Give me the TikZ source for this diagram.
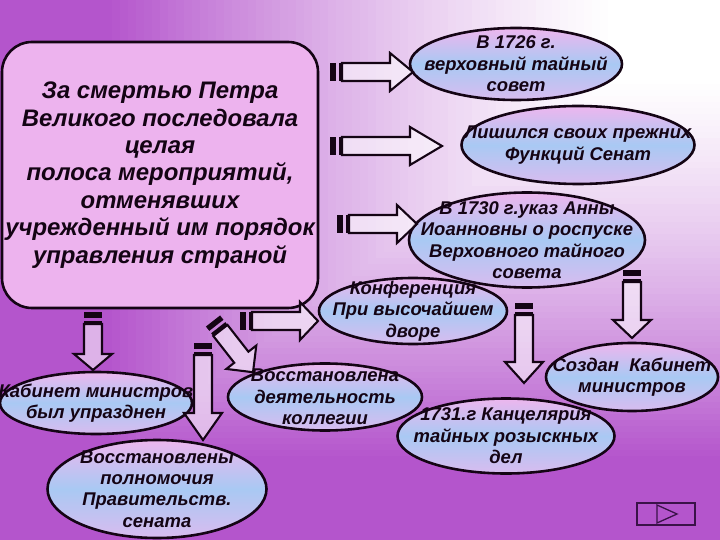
\documentclass[tikz,border=0pt]{standalone}
\usepackage{fontspec}
\setmainfont{Liberation Sans}
\usepackage{tikz}
\usetikzlibrary{shapes.geometric}
\definecolor{ink}     {HTML}{140414}
\definecolor{bgpurple}{HTML}{B455CC}
\definecolor{boxpink} {HTML}{EDB3EE}
\definecolor{ellpink} {HTML}{EDB6EE}
\definecolor{ellblue} {HTML}{A9C9F3}
\definecolor{btnline} {HTML}{3A1248}
\newcommand{\mainfont}{\fontsize{24}{27.5}\selectfont\bfseries\itshape}
\newcommand{\ellfont}{\fontsize{18.5}{21.5}\selectfont\bfseries\itshape}
\newcommand{\stripearrow}[4]{%
  \begin{scope}[shift={(#1)}, rotate=#2]
    \fill[stripe] (0,-9) rectangle (5.5,9);
    \fill[stripe] (8.5,-9) rectangle (12,9);
    \draw[blockarr] (12,-9) -- ({#3-#4},-9) -- ({#3-#4},-19) -- (#3,0)
      -- ({#3-#4},19) -- ({#3-#4},9) -- (12,9) -- cycle;
  \end{scope}}
\tikzset{
  mainbox/.style ={draw=ink, fill=boxpink, line width=2.6pt, rounded corners=30bp,
                   minimum width=316bp, minimum height=266bp,
                   align=center, font=\mainfont, text=ink, inner sep=0pt},
  ellnode/.style ={ellipse, draw=ink, line width=2.6pt,
                   top color=ellpink, bottom color=ellpink!70!ellblue, middle color=ellblue,
                   inner xsep=-150bp, inner ysep=-80bp,
                   align=center, font=\ellfont, text=ink},
  blockarr/.style={draw=ink, line width=2.1pt, fill=white, fill opacity=0.55, line join=miter},
  stripe/.style  ={fill=ink},
  navbtn/.style  ={draw=btnline, line width=1.3pt, minimum width=58bp, minimum height=22bp, inner sep=0pt},
}
\begin{document}
\begin{tikzpicture}[x=1bp,y=-1bp]
  \useasboundingbox (0,0) rectangle (720,540);
  \foreach \i in {90,89,...,1}{
    \pgfmathsetmacro\t{\i/90}
    \pgfmathsetmacro\u{max(0,min(1,(\t-0.15)/0.7))}
    \pgfmathtruncatemacro\p{100*\u*(0.6+0.4*\u)}
    \fill[bgpurple!\p!white] ({720-720*\t},0) rectangle (720,{540*\t});
  }

  \node[mainbox] (main) at (160,175) {За смертью Петра\\Великого последовала\\целая\\полоса мероприятий,\\отменявших\\учрежденный им порядок\\управления страной};

  \node[ellnode, minimum width=212bp, minimum height=72bp] (council)   at (516,64)  {В 1726 г.\\верховный тайный\\совет};
  \node[ellnode, minimum width=233bp, minimum height=78bp] (senate)    at (578,145) {Лишился своих прежних\\Функций Сенат};
  \node[ellnode, minimum width=236bp, minimum height=95bp] (decree)    at (527,240) {В 1730 г.указ Анны\\Иоанновны о роспуске\\Верховного тайного\\совета};
  \node[ellnode, minimum width=188bp, minimum height=66bp] (conf)      at (413,311) {Конференция\\При высочайшем\\дворе};
  \node[ellnode, minimum width=172bp, minimum height=68bp] (cabinet)   at (632,377) {Создан\ \ Кабинет\\министров};
  \node[ellnode, minimum width=217bp, minimum height=75bp] (chancery)  at (506,436) {1731.г Канцелярия\\тайных розыскных\\дел};
  \node[ellnode, minimum width=194bp, minimum height=67bp] (colleges)  at (325,397) {Восстановлена\\деятельность\\коллегии};
  \node[ellnode, minimum width=192bp, minimum height=62bp] (abolished) at (96,403)  {Кабинет министров\\был упразднен};
  \node[ellnode, minimum width=219bp, minimum height=98bp] (restored)  at (157,489) {Восстановлены\\полномочия\\Правительств.\\сената};

  \coordinate (a1) at (330,72);
  \coordinate (a2) at (330,146);
  \coordinate (a3) at (337,224);
  \coordinate (a4) at (240,321);
  \coordinate (a5) at (93,312);
  \coordinate (a6) at (203,343);
  \coordinate (a7) at (213,321);
  \coordinate (a8) at (632,270);
  \coordinate (a9) at (524,303);

  \stripearrow{a1}{0}{83}{23}
  \stripearrow{a2}{0}{112}{32}
  \stripearrow{a3}{0}{80}{20}
  \stripearrow{a4}{0}{78}{18}
  \stripearrow{a5}{-90}{58}{16}
  \stripearrow{a6}{-90}{97}{27}
  \stripearrow{a7}{-52}{65}{19}
  \stripearrow{a8}{-90}{68}{18}
  \stripearrow{a9}{-90}{80}{21}

  \node[navbtn] (nextbtn) at (666,514) {};
  \draw[btnline, line width=1.3pt] (657,505) -- (677,514) -- (657,523) -- cycle;
\end{tikzpicture}
\end{document}
